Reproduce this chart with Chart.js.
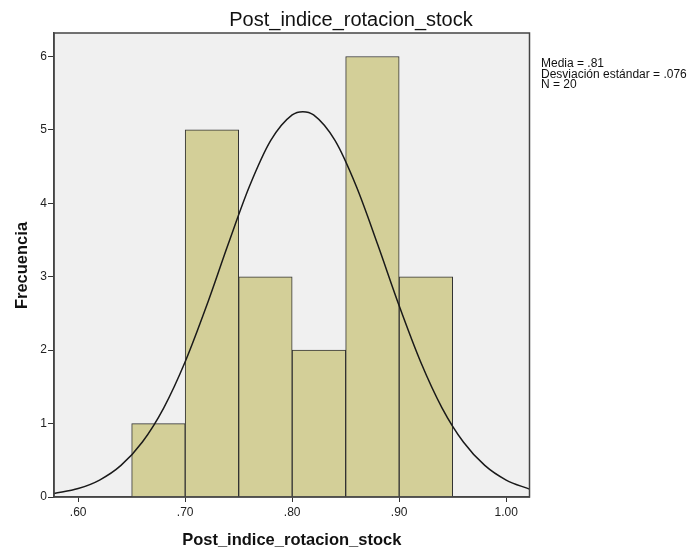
<!DOCTYPE html>
<html>
<head>
<meta charset="utf-8">
<script src="https://cdn.jsdelivr.net/npm/chart.js@4.4.1/dist/chart.umd.min.js"></script>
<style>
  html, body { margin: 0; padding: 0; background: #ffffff; }
  #wrap { width: 691px; height: 548px; position: relative; }
</style>
</head>
<body>
<div id="wrap"><canvas id="c" width="691" height="548"></canvas></div>
<script>
// ---- data ----
const binCenters = [0.675, 0.725, 0.775, 0.825, 0.875, 0.925];
const frequencies = [1, 5, 3, 2, 6, 3];
// fitted normal curve (Media = .81, Desviación estándar = .076, N = 20)
const curveX = [0.5774, 0.60, 0.62, 0.64, 0.66, 0.68, 0.70, 0.72, 0.74, 0.76, 0.78, 0.80, 0.81, 0.82, 0.84, 0.86, 0.88, 0.90, 0.92, 0.94, 0.96, 0.98, 1.00, 1.0218];
const curveY = [0.049, 0.115, 0.231, 0.430, 0.749, 1.215, 1.842, 2.604, 3.435, 4.228, 4.856, 5.204, 5.249, 5.204, 4.856, 4.228, 3.435, 2.604, 1.842, 1.215, 0.749, 0.430, 0.231, 0.107];
const xTicks = [0.60, 0.70, 0.80, 0.90, 1.00];
const yTicks = [0, 1, 2, 3, 4, 5, 6];
const titleText = 'Post_indice_rotacion_stock';
const xTitle = 'Post_indice_rotacion_stock';
const yTitle = 'Frecuencia';
const statsLines = ['Media = .81', 'Desviación estándar = .076', 'N = 20'];

const FONT = '"Liberation Sans", Arial, sans-serif';

const decorPlugin = {
  id: 'decor',
  beforeDraw(chart) {
    const {ctx, chartArea: a} = chart;
    ctx.save();
    ctx.fillStyle = '#f0f0f0';
    ctx.fillRect(a.left, a.top, a.right - a.left, a.bottom - a.top);
    ctx.restore();
  },
  afterDraw(chart) {
    const {ctx, chartArea: a} = chart;
    ctx.save();
    ctx.strokeStyle = '#444444';
    ctx.lineWidth = 1.5;
    ctx.strokeRect(a.left, a.top, a.right - a.left, a.bottom - a.top);
    // title
    ctx.fillStyle = '#111111';
    ctx.font = '20px ' + FONT;
    ctx.textAlign = 'center';
    ctx.textBaseline = 'alphabetic';
    ctx.fillText(titleText, 351, 26);
    // x title
    ctx.font = 'bold 16.5px ' + FONT;
    ctx.fillText(xTitle, (a.left + a.right) / 2, 545);
    // y title
    ctx.save();
    ctx.translate(26.5, 265.5);
    ctx.rotate(-Math.PI / 2);
    ctx.fillText(yTitle, 0, 0);
    ctx.restore();
    // stats text
    ctx.font = '12px ' + FONT;
    ctx.textAlign = 'left';
    ctx.textBaseline = 'middle';
    ctx.fillStyle = '#111111';
    statsLines.forEach((s, i) => ctx.fillText(s, 541, 63.5 + i * 10.8));
    ctx.restore();
  }
};

new Chart(document.getElementById('c'), {
  type: 'bar',
  data: {
    datasets: [
      {
        type: 'line',
        data: curveX.map((x, i) => ({x: x, y: curveY[i]})),
        borderColor: '#1a1a1a',
        borderWidth: 1.5,
        pointRadius: 0,
        fill: false,
        cubicInterpolationMode: 'monotone',
        order: 0
      },
      {
        type: 'bar',
        data: binCenters.map((x, i) => ({x: x, y: frequencies[i]})),
        backgroundColor: '#d3cf98',
        borderColor: '#333333',
        borderWidth: 1,
        barPercentage: 1,
        categoryPercentage: 1,
        order: 1
      }
    ]
  },
  options: {
    responsive: false,
    animation: false,
    devicePixelRatio: 1,
    layout: { padding: { top: 33, right: 161.5, bottom: 0, left: 0 } },
    plugins: { legend: { display: false }, tooltip: { enabled: false }, title: { display: false } },
    scales: {
      x: {
        type: 'linear',
        offset: false,
        min: 0.5774,
        max: 1.0218,
        afterFit(s) { s.height = 51; },
        afterBuildTicks(s) { s.ticks = xTicks.map(v => ({value: v})); },
        grid: { display: true, offset: false, drawOnChartArea: false, drawTicks: true, tickLength: 5, tickColor: '#333333', tickWidth: 1 },
        border: { display: true, color: '#444444', width: 1.5 },
        ticks: {
          font: { family: FONT, size: 12 }, color: '#222222', padding: 3, maxRotation: 0,
          callback(v) { return v.toFixed(2).replace(/^0/, ''); }
        }
      },
      y: {
        type: 'linear',
        min: 0,
        max: 6.32,
        afterFit(s) { s.width = 54; },
        afterBuildTicks(s) { s.ticks = yTicks.map(v => ({value: v})); },
        grid: { display: true, drawOnChartArea: false, drawTicks: true, tickLength: 6, tickColor: '#333333', tickWidth: 1 },
        border: { display: true, color: '#444444', width: 1.5 },
        ticks: { font: { family: FONT, size: 12 }, color: '#222222', padding: 1 }
      }
    }
  },
  plugins: [decorPlugin]
});
</script>
</body>
</html>
